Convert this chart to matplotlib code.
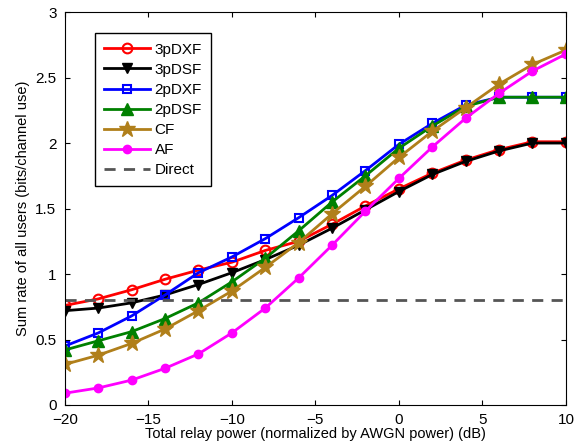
import matplotlib
matplotlib.use("Agg")
import matplotlib.pyplot as plt
import numpy as np

x = [-20, -18, -16, -14, -12, -10, -8, -6, -4, -2, 0, 2, 4, 6, 8, 10]
pdxf3 = [0.76, 0.81, 0.88, 0.96, 1.03, 1.09, 1.18, 1.25, 1.38, 1.52, 1.65, 1.77, 1.87, 1.95, 2.01, 2.01]
pdsf3 = [0.72, 0.74, 0.78, 0.84, 0.92, 1.01, 1.11, 1.22, 1.35, 1.49, 1.63, 1.76, 1.86, 1.94, 2.00, 2.00]
pdxf2 = [0.45, 0.55, 0.68, 0.84, 1.01, 1.13, 1.27, 1.43, 1.60, 1.79, 1.99, 2.15, 2.29, 2.35, 2.35, 2.35]
pdsf2 = [0.42, 0.49, 0.56, 0.66, 0.78, 0.94, 1.12, 1.33, 1.55, 1.75, 1.96, 2.13, 2.28, 2.35, 2.35, 2.35]
cf = [0.31, 0.38, 0.47, 0.58, 0.72, 0.87, 1.05, 1.24, 1.46, 1.67, 1.89, 2.09, 2.27, 2.45, 2.60, 2.71]
af = [0.09, 0.13, 0.19, 0.28, 0.39, 0.55, 0.74, 0.97, 1.22, 1.48, 1.73, 1.97, 2.19, 2.38, 2.55, 2.68]
direct = [0.8] * len(x)

plt.rcParams["font.family"] = ["Liberation Sans", "DejaVu Sans"]
fig = plt.figure(figsize=(5.84, 4.48), dpi=100)
ax = fig.add_axes([0.111, 0.096, 0.858, 0.877])

lw = 2
ax.plot(x, pdxf3, color="red", marker="o", mfc="none", mew=1.5, ms=7, lw=lw, label="3pDXF")
ax.plot(x, pdsf3, color="black", marker="v", ms=7, lw=lw, label="3pDSF")
ax.plot(x, pdxf2, color="blue", marker="s", mfc="none", mew=1.5, ms=6, lw=lw, label="2pDXF")
ax.plot(x, pdsf2, color="#008000", marker="^", ms=8, lw=lw, label="2pDSF")
ax.plot(x, cf, color="#b07f1a", marker="*", ms=12, lw=lw, label="CF")
ax.plot(x, af, color="magenta", marker="o", ms=6, lw=lw, label="AF")
ax.plot(x, direct, color="#555555", ls=(0, (4, 3)), lw=lw, label="Direct")

ax.set_xlim(-20, 10)
ax.set_ylim(0, 3)
ax.set_xticks(np.arange(-20, 11, 5))
ax.set_yticks(np.arange(0, 3.01, 0.5))
ax.set_yticklabels(["0", "0.5", "1", "1.5", "2", "2.5", "3"])
ax.tick_params(direction="in", labelsize=11, top=True, right=True)
ax.tick_params(axis="x", pad=6)
ax.tick_params(axis="y", pad=6)
ax.set_xlabel("Total relay power (normalized by AWGN power) (dB)", fontsize=10.5, labelpad=0)
ax.set_ylabel("Sum rate of all users (bits/channel use)", fontsize=10.5, labelpad=4)

leg = ax.legend(loc="upper left", bbox_to_anchor=(0.045, 0.965), fontsize=11, fancybox=False,
                edgecolor="black", framealpha=1, handlelength=3, labelspacing=0.4,
                borderpad=0.6, handletextpad=0.3)
leg.get_frame().set_linewidth(1)

plt.savefig("out.png", dpi=100)
